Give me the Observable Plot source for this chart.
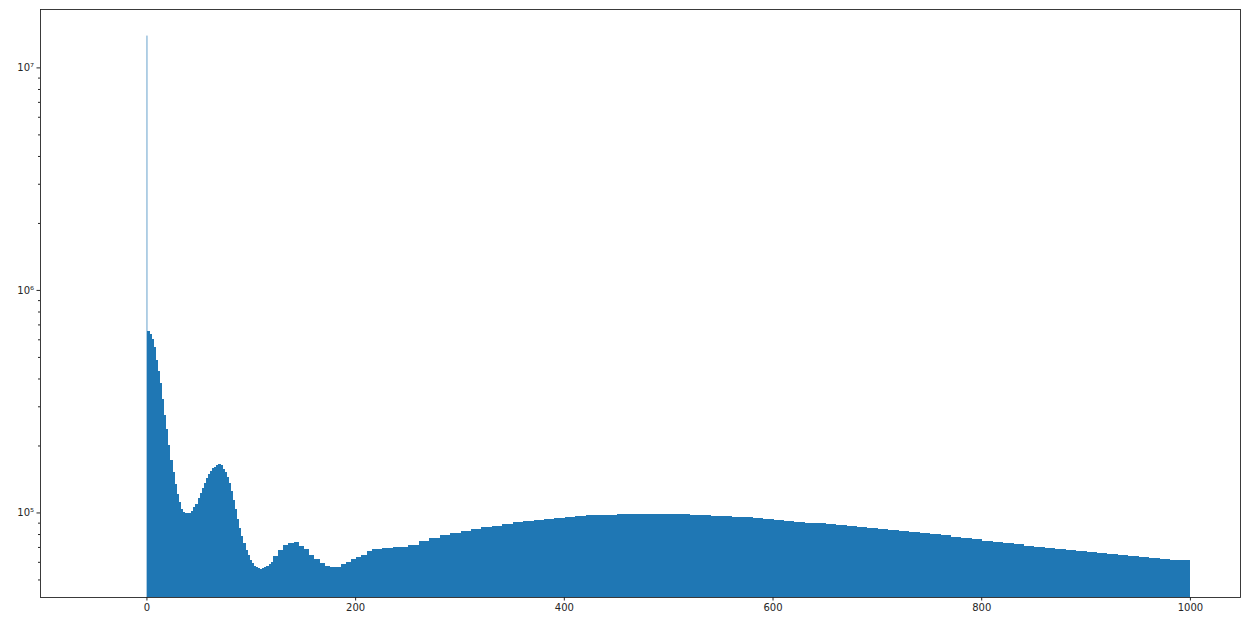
<!DOCTYPE html>
<html>
<head>
<meta charset="utf-8">
<script src="https://cdn.jsdelivr.net/npm/d3@7"></script>
<script src="https://cdn.jsdelivr.net/npm/@observablehq/plot@0.6"></script>
<style>
  html, body { margin: 0; padding: 0; background: #fff; }
  #chart svg { display: block; }
</style>
</head>
<body>
<div id="chart"></div>
<script>
// Tall spike bin at 0
const spikeBin = [0, 1];
const spikeCount = 13900000;

// Bin edges (unit: data value) for the remaining histogram bars
const binEdges = [
  1, 3, 5, 7, 9, 11, 13, 15, 17, 19, 21, 23, 25, 27, 29, 31, 33, 35, 37, 39,
  41, 43, 45, 47, 49, 51, 53, 55, 57, 59, 61, 63, 65, 67, 69, 71, 73, 75, 77, 79,
  81, 83, 85, 87, 89, 91, 93, 95, 97, 99, 101, 103, 105, 107, 109, 111, 113, 115, 117, 119, 121,
  126, 131, 136, 141, 146, 151, 156, 161, 166, 171, 176, 181, 186, 191, 196,
  201, 206, 211, 216, 221, 226, 231, 236, 241, 246, 251,
  261, 271, 281, 291, 301, 311, 321, 331, 341, 351, 361, 371, 381, 391, 401,
  411, 421, 431, 441, 451, 461, 471, 481, 491, 501, 511, 521, 531, 541, 551,
  561, 571, 581, 591, 601, 611, 621, 631, 641, 651, 661, 671, 681, 691, 701,
  711, 721, 731, 741, 751, 761, 771, 781, 791, 801, 811, 821, 831, 841, 851,
  861, 871, 881, 891, 901, 911, 921, 931, 941, 951, 961, 971, 981, 991, 1000
];

// Counts per bin (log scale)
const counts = [
  654000, 631000, 602000, 556000, 485000, 432000, 380000, 324000, 274000, 236000,
  202000, 172000, 152000, 134300, 121100, 110900, 103900, 100700, 99500, 99500,
  99900, 101600, 105300, 109500, 116200, 122400, 128900, 136100, 143200, 148600,
  153600, 158000, 160200, 162700, 164700, 162700, 157200, 152300, 145000, 135300,
  124300, 113800, 103400, 93800, 85200, 78400, 72700, 67800, 64400, 61400,
  59300, 57500, 56700, 56100, 55900, 56300, 56900, 57500, 58400, 59900,
  63700, 67800, 71400, 73200, 73300, 70700, 68200, 64700, 61500, 59300,
  57500, 56900, 57000, 58400, 59900, 61500, 62900, 64500, 66800, 68200,
  68800, 69300, 69500, 69600, 69700, 70100,
  71400, 74100, 76700, 78900, 80900, 82600, 84000, 85600, 87100, 88700,
  90300, 91400, 92300, 93700, 94700, 95700, 96400, 97100, 97400, 97900,
  98200, 98400, 98500, 98500, 98500, 98300, 98000, 97600, 97100, 96600,
  96100, 95700, 95000, 94300, 93600, 92900, 92000, 91000, 90000, 89400,
  88800, 88100, 87100, 86200, 85300, 84300, 83300, 82300, 81400, 80500,
  79800, 78900, 77800, 76800, 76000, 74800, 73700, 72700, 71800, 70900,
  69800, 69100, 68300, 67900, 67300, 66600, 65900, 65200, 64500, 63800,
  63100, 62600, 61900, 61400, 60900
];

const xTicks = [0, 200, 400, 600, 800, 1000];
const yMajorTicks = [1e5, 1e6, 1e7];
const yMinorTicks = [5e4, 6e4, 7e4, 8e4, 9e4,
  2e5, 3e5, 4e5, 5e5, 6e5, 7e5, 8e5, 9e5,
  2e6, 3e6, 4e6, 5e6, 6e6, 7e6, 8e6, 9e6];

const xDomain = [-102, 1048];
const yDomain = [41700, 1.83e7];

const bins = counts.map((c, i) => ({x1: binEdges[i], x2: binEdges[i + 1], count: c}));
const spike = [{x1: spikeBin[0], x2: spikeBin[1], count: spikeCount}];

const sup = {"0":"⁰","1":"¹","2":"²","3":"³","4":"⁴","5":"⁵","6":"⁶","7":"⁷","8":"⁸","9":"⁹"};
const fmtPow = d => "10" + String(Math.round(Math.log10(d))).split("").map(c => sup[c]).join("");

const blue = "#1f77b4";

const chart = Plot.plot({
  width: 1241,
  height: 617,
  marginTop: 9,
  marginBottom: 20,
  marginLeft: 40,
  marginRight: 1,
  style: {fontFamily: "DejaVu Sans", fontSize: "10px", color: "#262626", background: "#fff"},
  x: {domain: xDomain},
  y: {type: "log", domain: yDomain},
  marks: [
    Plot.rect(bins, {x1: "x1", x2: "x2", y1: yDomain[0], y2: "count", fill: blue, shapeRendering: "crispEdges"}),
    Plot.rect(spike, {x1: "x1", x2: "x2", y1: yDomain[0], y2: "count", fill: blue, fillOpacity: 0.65}),
    Plot.frame({stroke: "#262626", strokeWidth: 0.9}),
    Plot.axisX({ticks: xTicks, tickSize: 3.5, tickPadding: 3, tickFormat: d => String(d), label: null, stroke: "#262626"}),
    Plot.axisY({ticks: yMajorTicks, tickSize: 3.5, tickPadding: 3, tickFormat: fmtPow, label: null, stroke: "#262626"}),
    Plot.axisY({ticks: yMinorTicks, tickSize: 2, tickFormat: () => "", label: null, stroke: "#262626"})
  ]
});

document.getElementById("chart").appendChild(chart);
</script>
</body>
</html>
